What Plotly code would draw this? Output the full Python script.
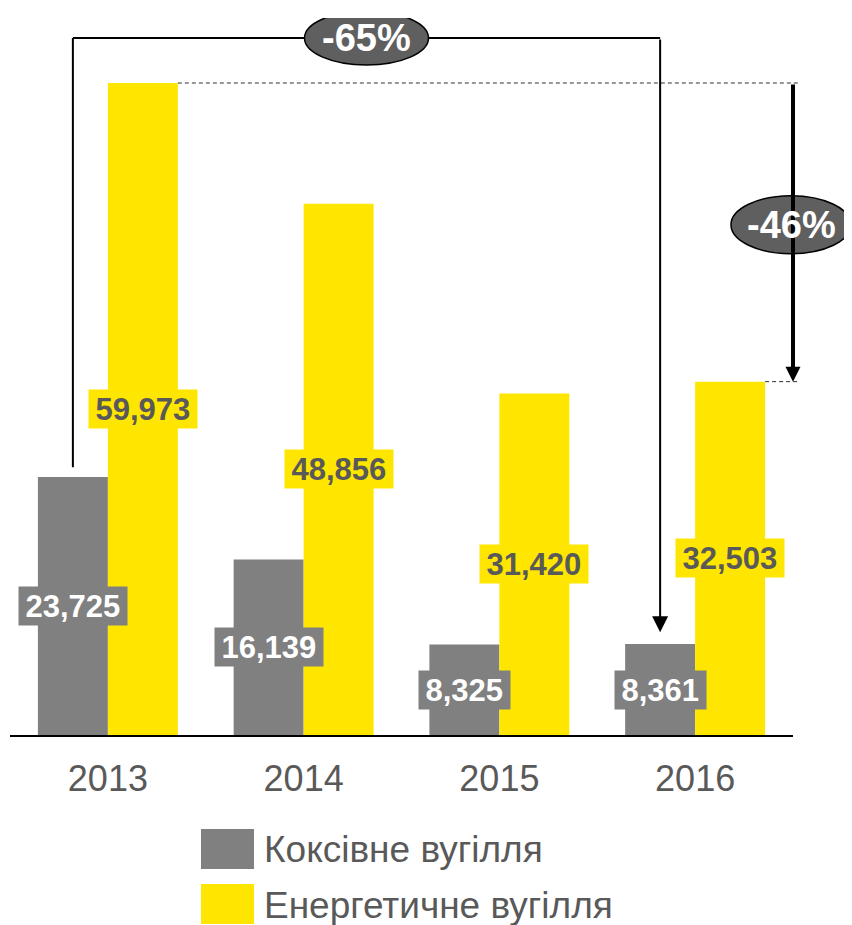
import plotly.graph_objects as go

# ---- data ----
years = ["2013", "2014", "2015", "2016"]
coking = [23725, 16139, 8325, 8361]
thermal = [59973, 48856, 31420, 32503]
series_names = ["Коксівне вугілля", "Енергетичне вугілля"]
change_coking = "-65%"
change_thermal = "-46%"

# ---- style ----
GRAY = "#808080"
YELLOW = "#FFE600"
DARK = "#5F5F5F"
TXT = "#595959"
FONT = "Liberation Sans, Arial, sans-serif"

OFF = 8                      # page body margin
BARGAP = 0.285
HALF = (1 - BARGAP) / 4      # offset of each bar centre from category centre
W, H = 852 - OFF, 925 - OFF
ML, MR, MT, MB = 10 - OFF, 59, 18 - OFF, 190
PLOT_H = H - MT - MB
PW = W - ML - MR
YMAX = max(thermal) * PLOT_H / 652.0
LBL = 31


def label_width(s, size):
    return sum(0.278 if c == "," else 0.556 for c in s) * size + 9


fig = go.Figure()
fig.add_trace(go.Bar(x=years, y=coking, name=series_names[0], marker_color=GRAY,
                     marker_line_width=0, hoverinfo="skip"))
fig.add_trace(go.Bar(x=years, y=thermal, name=series_names[1], marker_color=YELLOW,
                     marker_line_width=0, hoverinfo="skip"))

ann = []
shapes = []
# value labels
for i, v in enumerate(coking):
    s = f"{v:,}"
    ann.append(dict(x=i - HALF, y=v / 2, xref="x", yref="y", text=f"<b>{s}</b>",
                    showarrow=False, bgcolor=GRAY, borderpad=2,
                    width=label_width(s, LBL), height=34,
                    font=dict(family=FONT, size=LBL, color="white")))
for i, v in enumerate(thermal):
    s = f"{v:,}"
    ann.append(dict(x=i + HALF, y=v / 2, xref="x", yref="y", text=f"<b>{s}</b>",
                    showarrow=False, bgcolor=YELLOW, borderpad=2,
                    width=label_width(s, LBL), height=34,
                    font=dict(family=FONT, size=LBL, color=TXT)))

# -65% bracket (coking 2013 -> coking 2016)
n = len(years)
x_left = 0 - HALF
x_right = n - 1 - HALF
y_top = YMAX * 0.972
shapes.append(dict(type="line", xref="x", yref="y", x0=x_left, x1=x_left,
                   y0=coking[0] + 900, y1=y_top, line=dict(color="black", width=2)))
shapes.append(dict(type="line", xref="x", yref="y", x0=x_left, x1=x_right,
                   y0=y_top, y1=y_top, line=dict(color="black", width=2)))
ann.append(dict(x=x_right, y=coking[-1] + 1100, xref="x", yref="y",
                ax=x_right, ay=y_top, axref="x", ayref="y", text="",
                showarrow=True, arrowhead=2, arrowsize=1.6, arrowwidth=2,
                arrowcolor="black", standoff=0, startstandoff=0))
shapes.append(dict(type="circle", xref="x", yref="y", xsizemode="pixel", ysizemode="pixel",
                   xanchor=(x_left + x_right) / 2, yanchor=y_top,
                   x0=-62, x1=62, y0=-27, y1=27,
                   fillcolor=DARK, line=dict(color="black", width=1.5)))
ann.append(dict(x=(x_left + x_right) / 2, y=y_top, xref="x", yref="y",
                xanchor="center", yanchor="middle",
                text=f"<b>{change_coking}</b>", showarrow=False,
                font=dict(family=FONT, size=38, color="white")))

# -46% bracket (thermal 2013 -> thermal 2016)
px0 = (0 + 2 * HALF + 0.5) / n
px_last = (n - 1 + 2 * HALF + 0.5) / n
shapes.append(dict(type="line", xref="paper", yref="y", x0=px0, x1=1.009,
                   y0=thermal[0], y1=thermal[0],
                   line=dict(color="#303030", width=1, dash="4px,3px")))
shapes.append(dict(type="line", xref="paper", yref="y", x0=px_last, x1=1.009,
                   y0=thermal[-1], y1=thermal[-1],
                   line=dict(color="#303030", width=1, dash="4px,3px")))
ann.append(dict(x=n - 0.5, y=thermal[-1], xref="x", yref="y",
                ax=n - 0.5, ay=thermal[0], axref="x", ayref="y", text="",
                showarrow=True, arrowhead=2, arrowsize=0.75, arrowwidth=4,
                arrowcolor="black", standoff=0, startstandoff=0))
y_mid46 = (thermal[0] + thermal[-1]) / 2 + 700
x_mid46 = (791 - OFF - ML) / PW
shapes.append(dict(type="circle", xref="paper", yref="y", xsizemode="pixel", ysizemode="pixel",
                   xanchor=x_mid46, yanchor=y_mid46,
                   x0=-60, x1=60, y0=-29, y1=29,
                   fillcolor=DARK, line=dict(color="black", width=1.5)))
ann.append(dict(x=x_mid46, y=y_mid46, xref="paper", yref="y",
                xanchor="center", yanchor="middle",
                text=f"<b>{change_thermal}</b>", showarrow=False,
                font=dict(family=FONT, size=38, color="white")))


# custom legend (positions given in page pixels)
def px_to_paper_x(px):
    return (px - OFF - ML) / PW


def py_to_paper_y(py):
    return (MT + PLOT_H - (py - OFF)) / PLOT_H


for k, (name, col) in enumerate(zip(series_names, [GRAY, YELLOW])):
    top = 829 + k * 55
    shapes.append(dict(type="rect", xref="paper", yref="paper",
                       x0=px_to_paper_x(201), x1=px_to_paper_x(254),
                       y0=py_to_paper_y(top), y1=py_to_paper_y(top + 40),
                       fillcolor=col, line=dict(width=0)))
    ann.append(dict(x=px_to_paper_x(262), y=py_to_paper_y(top + 21), xref="paper", yref="paper",
                    xanchor="left", yanchor="middle", text=name, showarrow=False,
                    font=dict(family=FONT, size=37, color=TXT)))

fig.update_layout(
    width=W, height=H,
    margin=dict(l=ML, r=MR, t=MT, b=MB),
    paper_bgcolor="white", plot_bgcolor="white",
    barmode="group", bargap=BARGAP, bargroupgap=0,
    showlegend=False,
    font=dict(family=FONT),
    annotations=ann, shapes=shapes,
    xaxis=dict(type="category", range=[-0.5, n - 0.5], showline=True, linecolor="black",
               linewidth=1.5, ticks="", showgrid=False, zeroline=False,
               tickfont=dict(family=FONT, size=36, color=TXT), ticklabelstandoff=11),
    yaxis=dict(range=[0, YMAX], visible=False, showgrid=False, zeroline=False),
)

fig.write_html("out.html")
